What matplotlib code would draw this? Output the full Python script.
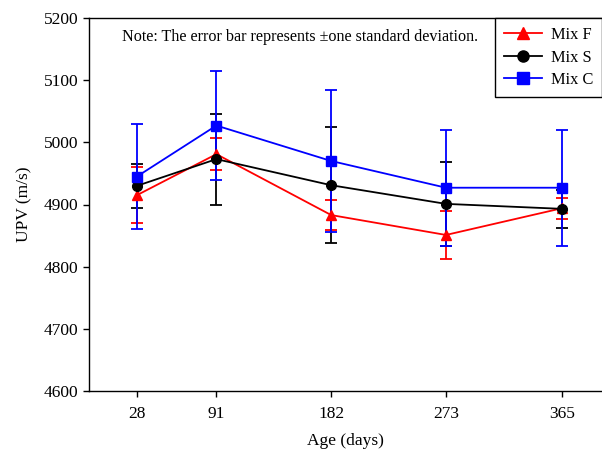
import matplotlib
matplotlib.use("Agg")
import matplotlib.pyplot as plt
from matplotlib.lines import Line2D

plt.rcParams['font.family'] = ['Liberation Serif', 'DejaVu Serif']

# Data
age = [28, 91, 182, 273, 365]
mix_f = [4915, 4981, 4883, 4851, 4894]
mix_f_sd = [45, 26, 24, 38, 17]
mix_s = [4930, 4973, 4931, 4901, 4893]
mix_s_sd = [35, 73, 93, 67, 30]
mix_c = [4945, 5027, 4970, 4927, 4927]
mix_c_sd = [84, 87, 114, 93, 93]

fig = plt.figure(figsize=(6.02, 4.54), dpi=100)
ax = fig.add_axes([89 / 602, 63 / 454, 513 / 602, 373 / 454])

series = [
    ("Mix F", mix_f, mix_f_sd, "red", "^"),
    ("Mix S", mix_s, mix_s_sd, "black", "o"),
    ("Mix C", mix_c, mix_c_sd, "blue", "s"),
]
handles = []
for label, y, sd, col, mk in series:
    ax.errorbar(age, y, yerr=sd, color=col, marker=mk, markersize=7,
                linewidth=1.3, elinewidth=1.3, capsize=4.5, capthick=1.3)
    handles.append(Line2D([], [], color=col, marker=mk, markersize=8,
                          linewidth=1.3, label=label))

ax.set_xlim(-10, 396.7)
ax.set_ylim(4600, 5200)
ax.set_xticks(age)
ax.set_yticks(range(4600, 5201, 100))
ax.tick_params(labelsize=12.5, direction='out', length=4, width=1)
ax.tick_params(axis='x', pad=7)
ax.spines['right'].set_visible(False)
for s in ['left', 'bottom', 'top']:
    ax.spines[s].set_linewidth(1)

ax.set_xlabel("Age (days)", fontsize=12.5, labelpad=8)
ax.set_ylabel("UPV (m/s)", fontsize=12.5, labelpad=8)

ax.text(0.065, 0.97, "Note: The error bar represents \u00b1one standard deviation.",
        transform=ax.transAxes, fontsize=11.6, va='top', ha='left')

leg = ax.legend(handles=handles, loc='upper right', bbox_to_anchor=(1.0, 1.0),
                fontsize=11.8, fancybox=False, edgecolor='black', framealpha=1,
                handlelength=2.35, handletextpad=0.5, borderaxespad=0,
                labelspacing=0.4, borderpad=0.55)
leg.get_frame().set_linewidth(1)

plt.savefig("out.png", dpi=100)
